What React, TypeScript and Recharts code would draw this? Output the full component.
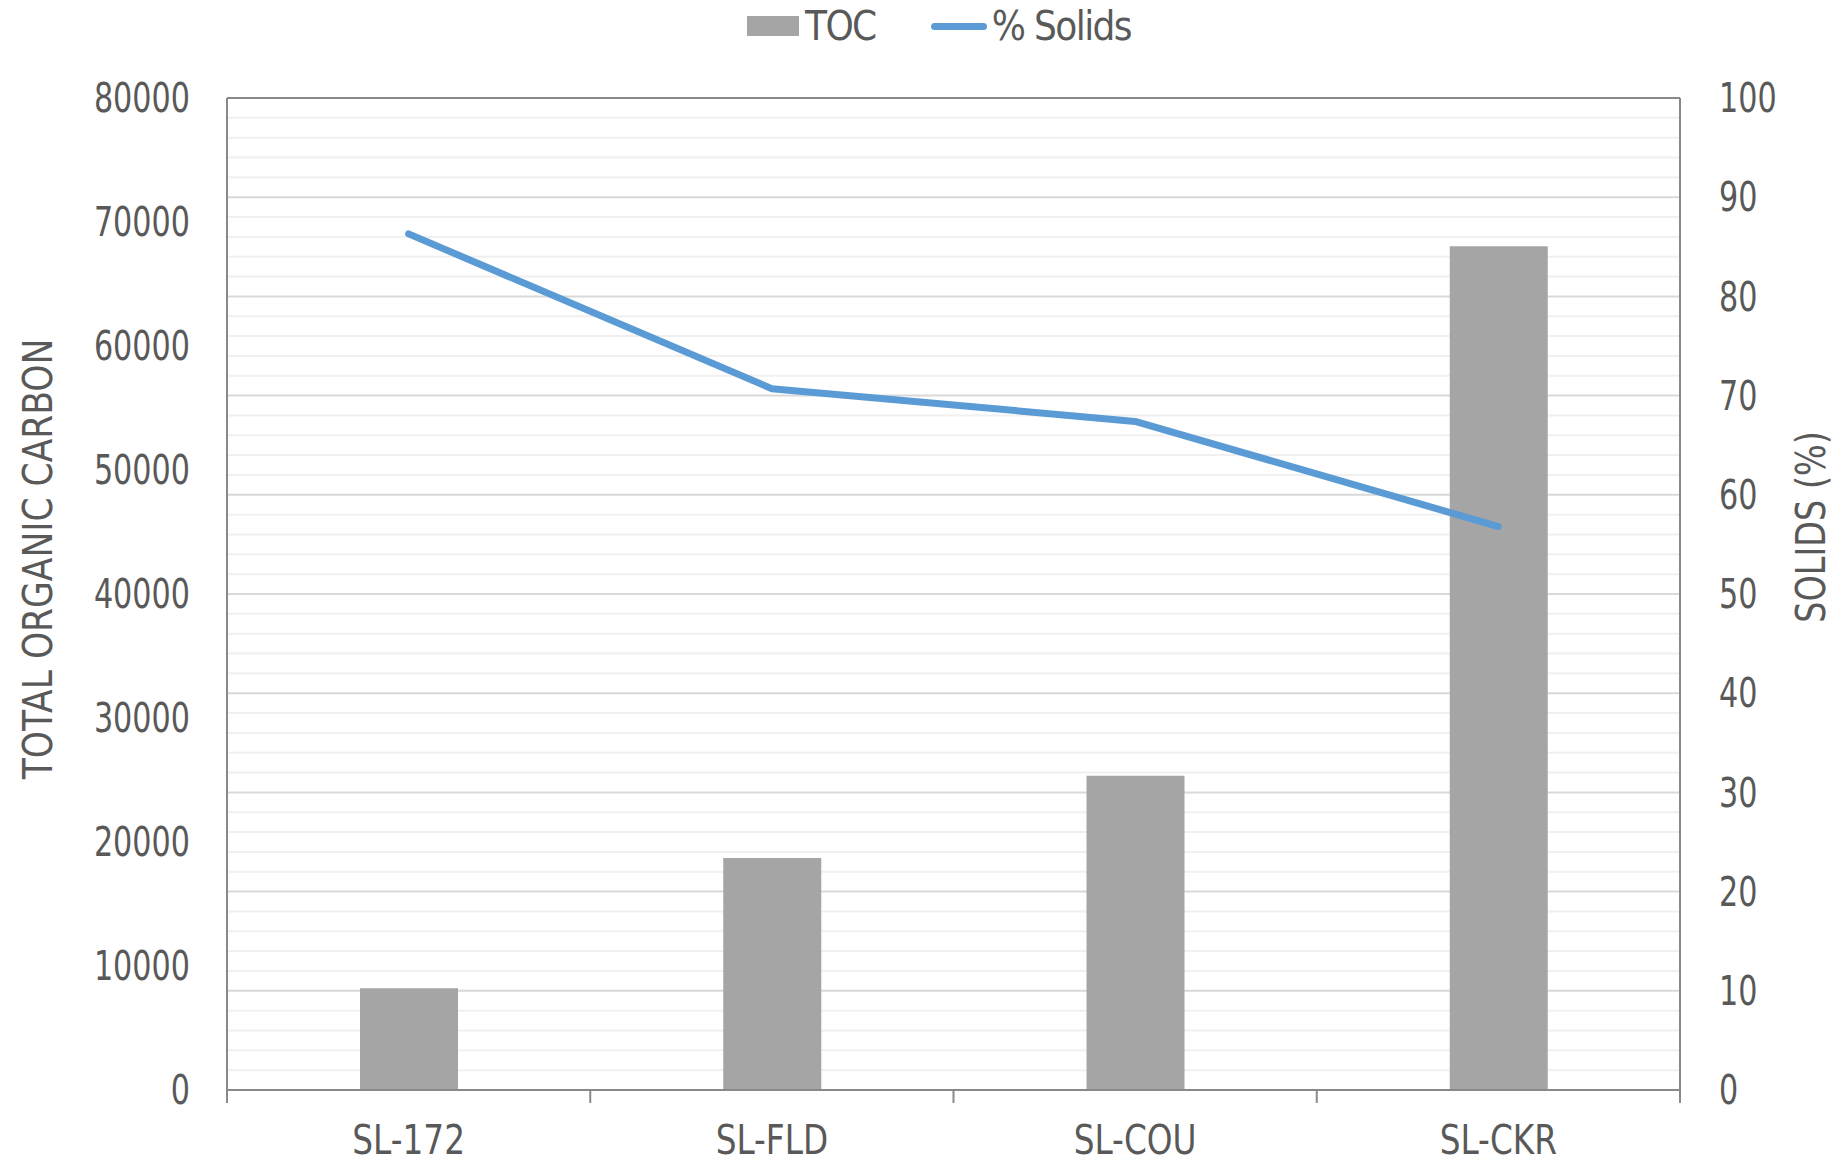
import React from 'react';
import { ComposedChart, Bar, Line, XAxis, YAxis, CartesianGrid, Legend, ReferenceLine } from 'recharts';

const FONT = '"Liberation Sans Narrow", "Arial Narrow", "DejaVu Sans Condensed", sans-serif';
const TEXT = '#595959';
const AXIS = '#898989';

const sites = ['SL-172', 'SL-FLD', 'SL-COU', 'SL-CKR'];
const tocValues = [8200, 18700, 25350, 68050];
const solidsValues = [86.3, 70.7, 67.4, 56.8];

const tocTicks = [0, 10000, 20000, 30000, 40000, 50000, 60000, 70000, 80000];
const solidsTicks = [0, 10, 20, 30, 40, 50, 60, 70, 80, 90, 100];
// minor grid steps on the solids axis (every 2 %)
const gridSteps = [
  0, 2, 4, 6, 8, 10, 12, 14, 16, 18, 20, 22, 24, 26, 28, 30, 32, 34, 36, 38, 40, 42, 44, 46, 48, 50,
  52, 54, 56, 58, 60, 62, 64, 66, 68, 70, 72, 74, 76, 78, 80, 82, 84, 86, 88, 90, 92, 94, 96, 98, 100,
];

const data = sites.map((site, i) => ({ site, toc: tocValues[i], solids: solidsValues[i] }));

// squeezed text: the reference uses a narrow face, DejaVu Condensed is still wider
const Narrow = ({ x, y, sx, anchor, rotate = 0, children }: any) => (
  <text
    x={0}
    y={0}
    dy="0.355em"
    transform={`translate(${x} ${y}) rotate(${rotate}) scale(${sx} 1)`}
    textAnchor={anchor}
    fill={TEXT}
    fontSize={40}
    fontFamily={FONT}
  >
    {children}
  </text>
);

const gridLine = (p: any) => {
  const major = p.index % 5 === 0;
  return (
    <line
      key={p.key}
      x1={p.x1}
      x2={p.x2}
      y1={p.y1}
      y2={p.y2}
      stroke={major ? '#d9d9d9' : '#f0f0f0'}
      strokeWidth={2}
    />
  );
};

const SiteTick = (props: any) => {
  const { x, y, payload, index, visibleTicksCount } = props;
  const half = payload.offset ?? 0;
  return (
    <g>
      <line x1={x - half} x2={x - half} y1={y} y2={y + 13} stroke={AXIS} strokeWidth={2} />
      {index === (visibleTicksCount ?? sites.length) - 1 && (
        <line x1={x + half} x2={x + half} y1={y} y2={y + 13} stroke={AXIS} strokeWidth={2} />
      )}
      <Narrow x={x} y={y + 50} sx={0.91} anchor="middle">
        {payload.value}
      </Narrow>
    </g>
  );
};

const LeftTick = (props: any) => (
  <Narrow x={props.x} y={props.y} sx={0.84} anchor="end">
    {props.payload.value}
  </Narrow>
);

const RightTick = (props: any) =>
  solidsTicks.includes(props.payload.value) ? (
    <Narrow x={props.x} y={props.y} sx={0.84} anchor="start">
      {props.payload.value}
    </Narrow>
  ) : (
    <g />
  );

const LegendBox = () => (
  <div
    style={{
      display: 'flex',
      justifyContent: 'center',
      alignItems: 'center',
      height: 52,
      paddingLeft: 36,
      fontFamily: FONT,
      fontSize: 40,
      letterSpacing: -1.6,
      color: TEXT,
    }}
  >
    <span style={{ display: 'inline-block', width: 52, height: 20, background: '#a5a5a5', marginRight: 6 }} />
    <span>TOC</span>
    <span
      style={{
        display: 'inline-block',
        width: 56,
        height: 7,
        borderRadius: 4,
        background: '#5b9bd5',
        marginLeft: 55,
        marginRight: 5,
      }}
    />
    <span>% Solids</span>
  </div>
);

const leftTitle = ({ viewBox }: any) => (
  <Narrow x={viewBox.x + 38} y={viewBox.y + viewBox.height / 2 - 35} rotate={-90} sx={0.96} anchor="middle">
    TOTAL ORGANIC CARBON
  </Narrow>
);

const rightTitle = ({ viewBox }: any) => (
  <Narrow x={viewBox.x + 131} y={viewBox.y + viewBox.height / 2 - 67} rotate={-90} sx={0.93} anchor="middle">
    SOLIDS (%)
  </Narrow>
);

export default function App() {
  return (
    <div style={{ position: 'absolute', left: 0, top: 0, width: 1842, height: 1163, background: '#fff', fontFamily: FONT }}>
      <ComposedChart width={1842} height={1163} data={data} margin={{ top: 98, right: 0, bottom: 0, left: 0 }}>
        <CartesianGrid yAxisId="right" vertical={false} horizontal={gridLine} />
        <XAxis
          dataKey="site"
          height={73}
          axisLine={{ stroke: AXIS, strokeWidth: 2 }}
          tickLine={false}
          tickSize={0}
          tickMargin={0}
          tick={<SiteTick />}
          interval={0}
        />
        <YAxis
          yAxisId="left"
          width={227}
          domain={[0, 80000]}
          ticks={tocTicks}
          interval={0}
          axisLine={{ stroke: AXIS, strokeWidth: 2 }}
          tickLine={false}
          tickMargin={31}
          tick={<LeftTick />}
          label={leftTitle}
        />
        <YAxis
          yAxisId="right"
          orientation="right"
          width={162}
          domain={[0, 100]}
          ticks={gridSteps}
          interval={0}
          axisLine={{ stroke: AXIS, strokeWidth: 2 }}
          tickLine={false}
          tickMargin={33}
          tick={<RightTick />}
          label={rightTitle}
        />
        <ReferenceLine yAxisId="right" y={100} stroke={AXIS} strokeWidth={2} />
        <Legend
          verticalAlign="middle"
          align="center"
          layout="horizontal"
          wrapperStyle={{ top: 0, left: 0, width: 1842 }}
          content={<LegendBox />}
        />
        <Bar yAxisId="left" dataKey="toc" name="TOC" fill="#a5a5a5" barSize={98} isAnimationActive={false} />
        <Line
          yAxisId="right"
          dataKey="solids"
          name="% Solids"
          type="linear"
          stroke="#5b9bd5"
          strokeWidth={7}
          strokeLinecap="round"
          strokeLinejoin="round"
          dot={false}
          activeDot={false}
          isAnimationActive={false}
        />
      </ComposedChart>
    </div>
  );
}
